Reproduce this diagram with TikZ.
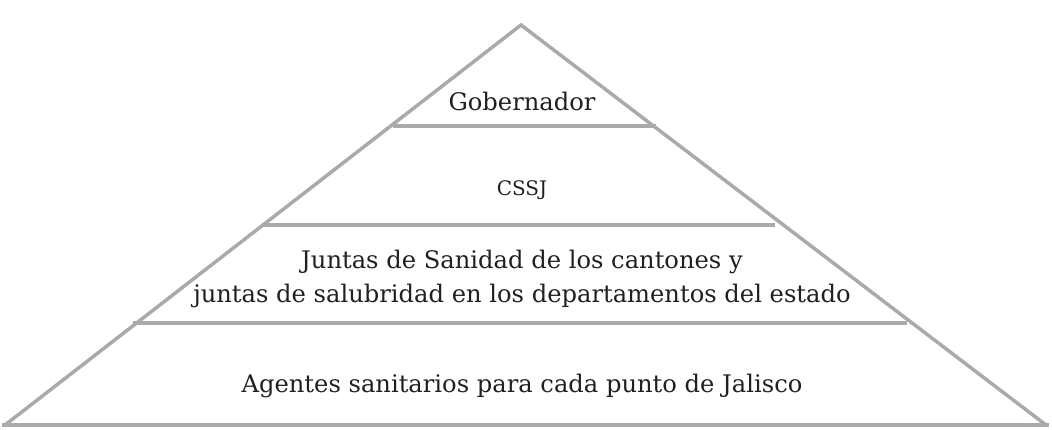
\documentclass[tikz,border=0pt]{standalone}
\usepackage{fontspec}
\setmainfont{DejaVu Serif}
\definecolor{pgray}{RGB}{170,170,173}
\definecolor{ptext}{RGB}{35,31,32}
\begin{document}
\begin{tikzpicture}[x=1pt,y=-1pt,
  edge/.style={draw=pgray,line width=3.5pt},
  lbl/.style={text=ptext,font=\fontsize{24.2}{34}\selectfont,align=center,inner sep=0pt}]
\useasboundingbox (0,0) rectangle (1052,430);
\coordinate (apex) at (521,25);
\coordinate (bl) at (5,425);
\coordinate (br) at (1046,425);
\coordinate (a1) at (393,126); \coordinate (b1) at (656,126);
\coordinate (a2) at (262,225); \coordinate (b2) at (775,225);
\coordinate (a3) at (133,323); \coordinate (b3) at (907,323);
\draw[edge,line join=miter] (bl) -- (apex) -- (br);
\draw[edge] (2,425) -- (1049,425);
\draw[edge] (a1) -- (b1);
\draw[edge] (a2) -- (b2);
\draw[edge] (a3) -- (b3);
\node[lbl] (gob) at (522,101) {Gobernador};
\node[lbl,font=\fontsize{20}{24}\selectfont] (cssj) at (522,190) {CSSJ};
\node[lbl] (juntas) at (522,279) {Juntas de Sanidad de los cantones y\\juntas de salubridad en los departamentos del estado};
\node[lbl] (agentes) at (522,386) {Agentes sanitarios para cada punto de Jalisco};
\end{tikzpicture}
\end{document}
